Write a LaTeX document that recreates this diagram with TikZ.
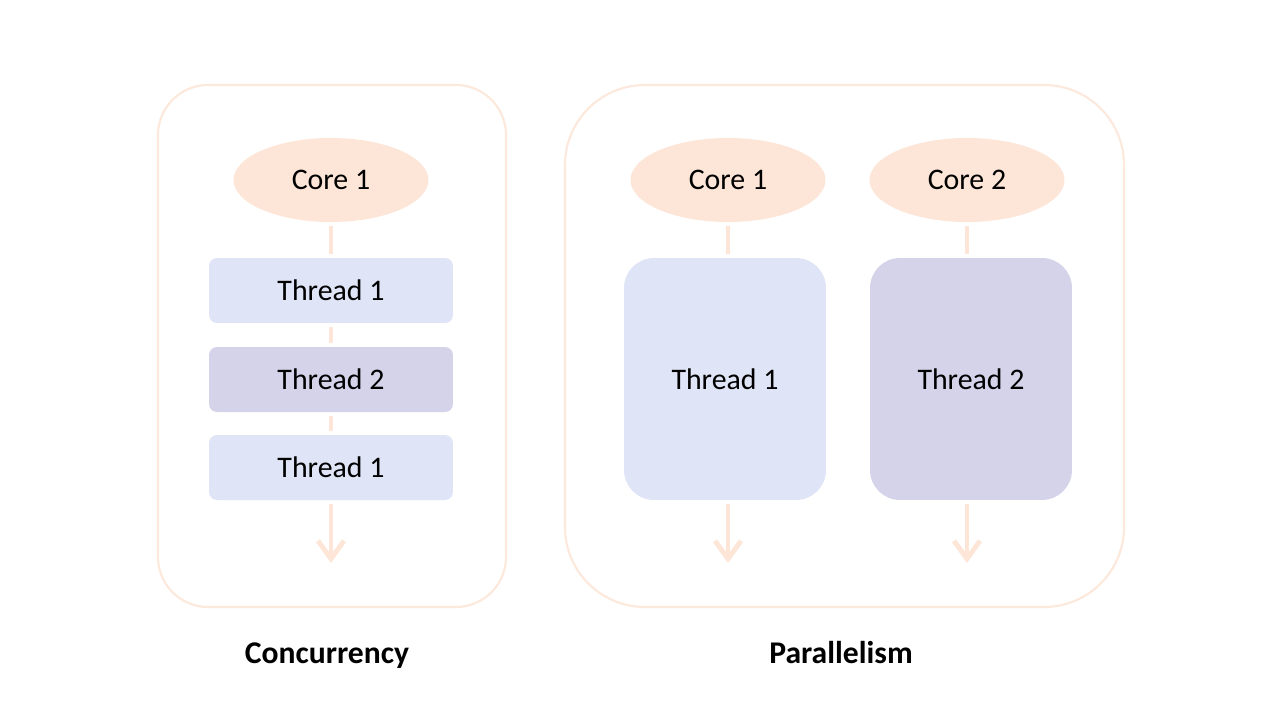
\documentclass[tikz,border=0pt]{standalone}
\usepackage{fontspec}
\setmainfont{Carlito}
\usetikzlibrary{shapes.geometric,arrows.meta}
\definecolor{peach}{HTML}{FDE6D7}
\definecolor{frameline}{HTML}{FDE9DC}
\definecolor{threadA}{HTML}{DFE4F6}
\definecolor{threadB}{HTML}{D4D3EA}
\tikzset{
  core/.style={ellipse,fill=peach,minimum width=3.9cm,minimum height=1.68cm,inner sep=0pt,font=\fontsize{17}{20}\selectfont},
  slice/.style={rounded corners=0.16cm,minimum width=4.88cm,minimum height=1.3cm,inner sep=0pt,font=\fontsize{17}{20}\selectfont},
  block/.style={rounded corners=0.6cm,minimum width=4.04cm,minimum height=4.84cm,inner sep=0pt,font=\fontsize{17}{20}\selectfont},
  link/.style={draw=peach,line width=2.8pt,shorten <=0.08cm,shorten >=0.08cm},
  flow/.style={link,-{Straight Barb[length=0.36cm,width=0.52cm,line width=2.8pt]},shorten >=0pt},
  caption/.style={anchor=base,inner sep=0pt,font=\fontsize{18}{22}\selectfont\bfseries}
}
\begin{document}
\begin{tikzpicture}[x=0.02cm,y=-0.02cm]
\useasboundingbox[fill=white] (0,0) rectangle (1280,720);
% frames
\draw[frameline,line width=1.2pt,rounded corners=1cm] (158,85) rectangle (506,607);
\draw[frameline,line width=1.2pt,rounded corners=1.6cm] (565,85) rectangle (1124,607);

% concurrency
\node[core] (c1) at (331,180) {Core 1};
\node[slice,fill=threadA] (t1) at (331,290.5) {Thread 1};
\node[slice,fill=threadB] (t2) at (331,379.5) {Thread 2};
\node[slice,fill=threadA] (t3) at (331,467.5) {Thread 1};
\coordinate (e1) at (331,563);
\draw[link] (c1) -- (t1);
\draw[link] (t1) -- (t2);
\draw[link] (t2) -- (t3);
\draw[flow] (t3) -- (e1);
\node[caption] (lc) at (327,663) {Concurrency};

% parallelism
\node[core] (p1) at (728,180) {Core 1};
\node[core] (p2) at (967,180) {Core 2};
\node[block,fill=threadA] (q1) at (725,379) {Thread 1};
\node[block,fill=threadB] (q2) at (971,379) {Thread 2};
\coordinate (e2) at (728,563);
\coordinate (e3) at (967,563);
\draw[link] (p1) -- (p1 |- q1.north);
\draw[link] (p2) -- (p2 |- q2.north);
\draw[flow] (e2 |- q1.south) -- (e2);
\draw[flow] (e3 |- q2.south) -- (e3);
\node[caption] (lp) at (841,663) {Parallelism};
\end{tikzpicture}
\end{document}
